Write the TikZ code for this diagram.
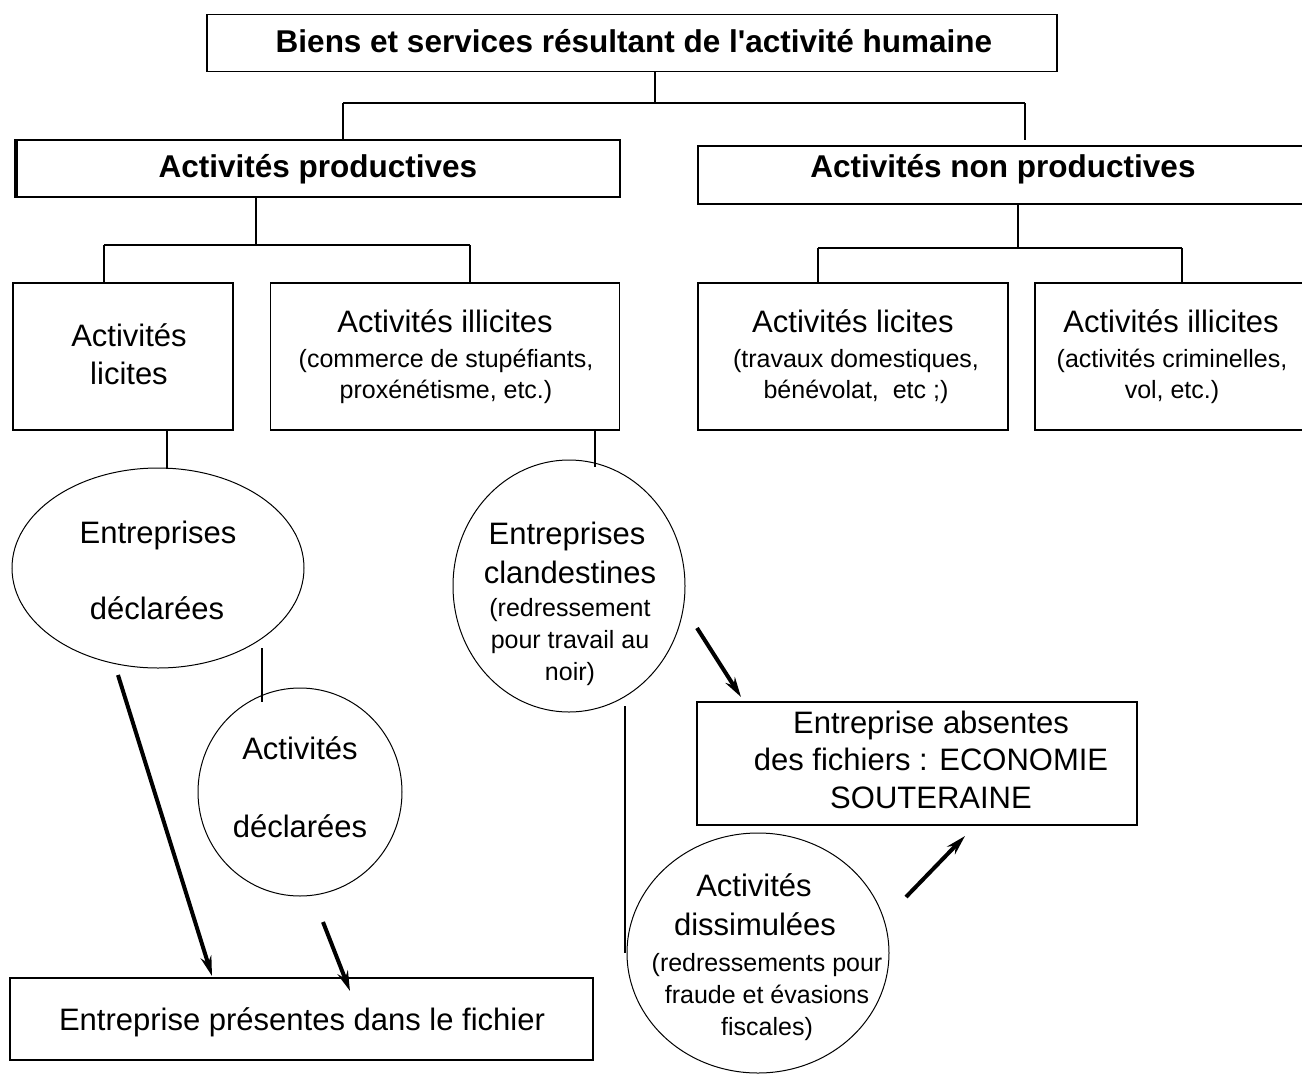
\documentclass[tikz,border=0pt]{standalone}
\usepackage{fontspec}
\setmainfont{Liberation Sans}
\usetikzlibrary{shapes.geometric,arrows.meta}
\begin{document}
\begin{tikzpicture}[x=1pt,y=-1pt,
  boxnode/.style={draw,line width=1.3pt,inner sep=0pt,align=center},
  ovalnode/.style={draw,ellipse,line width=1pt,inner sep=0pt,align=center},
  tree/.style={line width=2pt},
  link/.style={line width=1.3pt},
  flow/.style={line width=4pt,-{Stealth[length=20pt,width=11pt]}},
  big/.style={font=\fontsize{31.5}{36}\selectfont\bfseries},
  mid/.style={font=\fontsize{31}{38}\selectfont},
  sml/.style={font=\fontsize{25}{31}\selectfont},
  lbl/.style={anchor=base,inner sep=0pt,align=center}
]
\useasboundingbox (0,0) rectangle (1302,1074);
\fill[white] (0,0) rectangle (1302,1074);

% top level
\node[boxnode,minimum width=850pt,minimum height=57pt] (top) at (632,43) {};
\node[big,lbl] (toptxt) at (634,52) {Biens et services résultant de l\textquotesingle activité humaine};
\node[boxnode,minimum width=605pt,minimum height=57pt] (ap) at (317.5,168.5) {};
\node[big,lbl] (aptxt) at (318,177) {Activités productives};
\node[boxnode,minimum width=614pt,minimum height=58pt] (anp) at (1005,175) {};
\node[big,lbl] (anptxt) at (1003,177) {Activités non productives};
\draw[line width=4.5pt] ([xshift=1.5pt]ap.north west) -- ([xshift=1.5pt]ap.south west);

\draw[tree] (655,0 |- top.south) -- (655,103) coordinate (j1);
\draw[tree] (343,103) -- (1025,103);
\draw[tree] (343,103) -- (343,0 |- ap.north);
\draw[tree] (1025,103) -- (1025,140);

% second level, productive
\node[boxnode,minimum width=220pt,minimum height=147pt] (al) at (123,356.5) {};
\node[mid,lbl] (altxt) at (129,384) {Activités\\licites};
\node[boxnode,minimum width=349pt,minimum height=147pt] (ai) at (445,356.5) {};
\node[mid,lbl] (aitxt) at (445,332) {Activités illicites};
\node[sml,lbl] (aisub) at (446,398) {(commerce de stupéfiants,\\proxénétisme, etc.)};

\draw[tree] (256,0 |- ap.south) -- (256,245);
\draw[tree] (104,245) -- (470,245);
\draw[tree] (104,245) -- (104,0 |- al.north);
\draw[tree] (470,245) -- (470,0 |- ai.north);

% second level, non productive
\node[boxnode,minimum width=310pt,minimum height=147pt] (nl) at (853,356.5) {};
\node[mid,lbl] (nltxt) at (853,332) {Activités licites};
\node[sml,lbl] (nlsub) at (856,398) {(travaux domestiques,\\bénévolat,\ \ etc ;)};
\node[boxnode,minimum width=275pt,minimum height=147pt] (ni) at (1172.5,356.5) {};
\node[mid,lbl] (nitxt) at (1171,332) {Activités illicites};
\node[sml,lbl] (nisub) at (1172,398) {(activités criminelles,\\vol, etc.)};

\draw[tree] (1018,0 |- anp.south) -- (1018,248);
\draw[tree] (818,248) -- (1182,248);
\draw[tree] (818,248) -- (818,0 |- nl.north);
\draw[tree] (1182,248) -- (1182,0 |- ni.north);

% ellipses
\node[ovalnode,minimum width=292pt,minimum height=200pt] (ed) at (158,568) {};
\node[mid,lbl] (edt1) at (158,543) {Entreprises};
\node[mid,lbl] (edt2) at (157,619) {déclarées};

\node[ovalnode,minimum width=232pt,minimum height=252pt] (ec) at (569,586) {};
\node[mid,lbl] (ect1) at (567,544) {Entreprises};
\node[mid,lbl] (ect2) at (570,583) {clandestines};
\node[sml,lbl,font=\fontsize{25}{32}\selectfont] (ect3) at (570,680) {(redressement\\pour travail au\\noir)};

\node[ovalnode,minimum width=204pt,minimum height=208pt] (ad) at (300,792) {};
\node[mid,lbl] (adt1) at (300,759) {Activités};
\node[mid,lbl] (adt2) at (300,837) {déclarées};

\node[ovalnode,minimum width=262pt,minimum height=240pt] (ads) at (758,953) {};
\node[mid,lbl] (adst1) at (754,896) {Activités};
\node[mid,lbl] (adst2) at (755,935) {dissimulées};
\node[sml,lbl,font=\fontsize{25}{32}\selectfont] (adst3) at (767,1035) {(redressements pour\\fraude et évasions\\fiscales)};

% bottom boxes
\node[boxnode,minimum width=583pt,minimum height=82pt] (ep) at (301.5,1019) {};
\node[mid,lbl] (eptxt) at (302,1030) {Entreprise présentes dans le fichier};
\node[boxnode,minimum width=440pt,minimum height=123pt] (ea) at (917,763.5) {};
\node[mid,lbl,font=\fontsize{31}{37.5}\selectfont] (eat) at (931,808) {Entreprise absentes\\des fichiers : ECONOMIE\\SOUTERAINE};

% plain links
\draw[link] (167,0 |- al.south) -- (167,469);
\draw[link] (595,0 |- ai.south) -- (595,467);
\draw[link] (262,648) -- (262,702);
\draw[link] (625,706) -- (625,953);

% arrows
\coordinate (a1s) at (118,675);
\coordinate (a1e) at (212,976);
\coordinate (a2s) at (323,922);
\coordinate (a2e) at (350,991);
\coordinate (a3s) at (697,628);
\coordinate (a3e) at (741,697);
\coordinate (a4s) at (906,897);
\coordinate (a4e) at (965,836);
\draw[flow] (a1s) -- (a1e);
\draw[flow] (a2s) -- (a2e);
\draw[flow] (a3s) -- (a3e);
\draw[flow] (a4s) -- (a4e);
\end{tikzpicture}
\end{document}
